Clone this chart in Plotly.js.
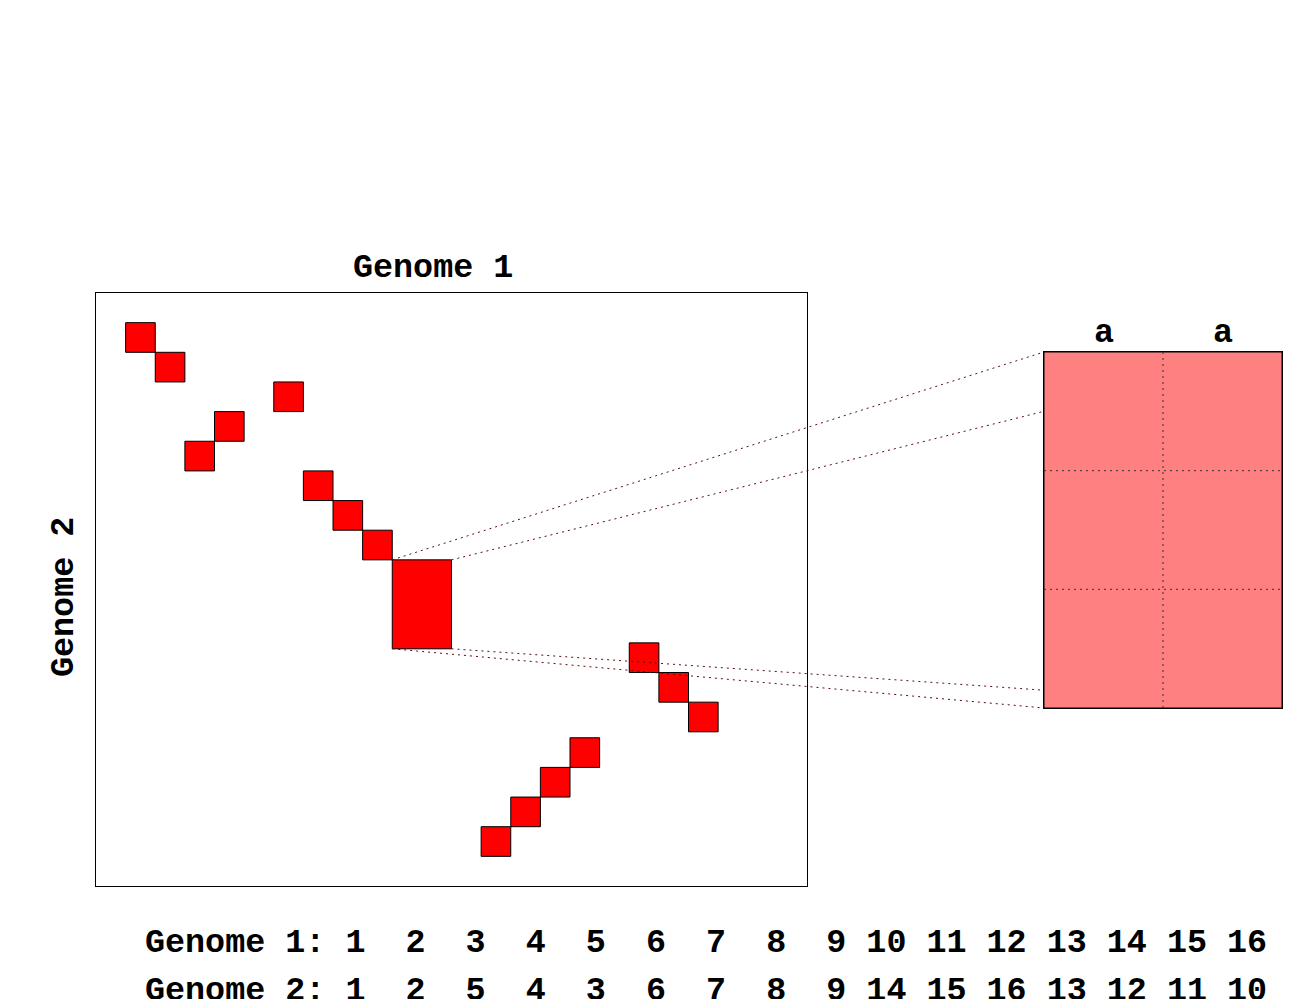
<!DOCTYPE html>
<html><head><meta charset="utf-8">
<script src="https://cdn.plot.ly/plotly-3.0.1.min.js"></script>
<style>html,body{margin:0;padding:0;background:#fff;}#chart{width:1292px;height:999px;}</style>
</head><body><div id="chart"></div>
<script>
// ---- data ----
const genome1 = [1,2,3,4,5,6,7,8,9,10,11,12,13,14,15,16];
const genome2 = [1,2,5,4,3,6,7,8,9,14,15,16,13,12,11,10];
// synteny blocks (cell units, y counted from top)
const blockX = [1,2,3,4,6,7,8,9,10,18,19,20,16,15,14,13];
const blockY = [1,2,5,4,3,6,7,8,9,11.8,12.8,13.8,15,16,17,18];
const blockW = [1,1,1,1,1,1,1,1,2,1,1,1,1,1,1,1];
const blockH = [1,1,1,1,1,1,1,1,3,1,1,1,1,1,1,1];
const zoomIndex = 8;               // block shown enlarged
const zoomColLabels = ['a','a'];
const zoomRows = 3;
// connector targets on the left edge of the zoom panel (panel row units)
const connTargetY = [0, 0.5, 2.85, 3];

// ---- layout geometry ----
const W = 1292, H = 999;
const mainXDom = [96/W, 807/W], mainYDom = [1-886/H, 1-293/H];
const zoomXDom = [1044/W, 1282/W], zoomYDom = [1-708/H, 1-352/H];
const mainXRange = [0,24], mainYRange = [20,0];
const zoomXRange = [0, zoomColLabels.length], zoomYRange = [zoomRows, 0];
const FONT = {family:'"Liberation Mono", "Courier New", monospace', size:33.4, color:'#000', weight:'bold'};

function toPaper(dom, rng, v){ return dom[0] + (v - rng[0])/(rng[1]-rng[0])*(dom[1]-dom[0]); }

// blocks trace
const bx = [], by = [];
for (let i=0;i<blockX.length;i++){
  const x0=blockX[i], x1=blockX[i]+blockW[i], y0=blockY[i], y1=blockY[i]+blockH[i];
  bx.push(x0,x1,x1,x0,x0,null); by.push(y0,y0,y1,y1,y0,null);
}
const blocks = {x:bx, y:by, mode:'lines', fill:'toself', fillcolor:'#ff0000',
  line:{color:'#000', width:1}, hoverinfo:'skip', showlegend:false, xaxis:'x', yaxis:'y'};

// zoom panel
const zc = zoomColLabels.length;
const zoomFill = {x:[0,zc,zc,0,0], y:[0,0,zoomRows,zoomRows,0], mode:'lines', fill:'toself',
  fillcolor:'#ff8080', line:{color:'#000', width:1}, hoverinfo:'skip', showlegend:false, xaxis:'x2', yaxis:'y2'};

const shapes = [];
for (let c=1;c<zc;c++) shapes.push({type:'line', xref:'x2', yref:'y2', x0:c, x1:c, y0:0, y1:zoomRows,
  line:{color:'#333', width:1, dash:'2px,4px'}});
for (let r=1;r<zoomRows;r++) shapes.push({type:'line', xref:'x2', yref:'y2', x0:0, x1:zc, y0:r, y1:r,
  line:{color:'#333', width:1, dash:'2px,4px'}});

// connectors
const zx0 = blockX[zoomIndex], zx1 = blockX[zoomIndex]+blockW[zoomIndex];
const zy0 = blockY[zoomIndex], zy1 = blockY[zoomIndex]+blockH[zoomIndex];
const corners = [[zx0,zy0],[zx1,zy0],[zx1,zy1],[zx0,zy1]];
corners.forEach((p,i)=>{
  shapes.push({type:'line', xref:'paper', yref:'paper',
    x0: toPaper(mainXDom, mainXRange, p[0]), y0: toPaper(mainYDom, mainYRange, p[1]),
    x1: toPaper(zoomXDom, zoomXRange, 0), y1: toPaper(zoomYDom, zoomYRange, connTargetY[i]),
    line:{color:'#5a1010', width:1, dash:'2px,4px'}, layer:'above'});
});

// text rows
function fmtRow(label, arr){
  return label + ' ' + arr.map((n,i)=> i===0 ? String(n) : String(n).padStart(2,' ')).join(' ');
}
const nb = s => s.replace(/ /g, '\u00A0');

const annotations = [
  {text:'Genome 1', xref:'paper', yref:'paper', x:433/W, y:1-268/H, xanchor:'center', yanchor:'middle', showarrow:false, font:FONT},
  {text:'Genome 2', xref:'paper', yref:'paper', x:64/W, y:1-597/H, xanchor:'center', yanchor:'middle', textangle:-90, showarrow:false, font:FONT},
  {text:nb(fmtRow('Genome 1:', genome1)), xref:'paper', yref:'paper', x:143/W, y:1-943/H, xanchor:'left', yanchor:'middle', showarrow:false, font:FONT},
  {text:nb(fmtRow('Genome 2:', genome2)), xref:'paper', yref:'paper', x:143/W, y:1-991/H, xanchor:'left', yanchor:'middle', showarrow:false, font:FONT}
];
zoomColLabels.forEach((t,i)=>{
  annotations.push({text:t, xref:'x2', yref:'paper', x:i+0.5, y:1-333/H, xanchor:'center', yanchor:'middle', showarrow:false, font:FONT});
});

const axBase = {showgrid:false, zeroline:false, showticklabels:false, ticks:'', showline:true, mirror:true, linecolor:'#000', linewidth:1, fixedrange:true};
const layout = {
  width:W, height:H, margin:{l:0,r:0,t:0,b:0}, paper_bgcolor:'#fff', plot_bgcolor:'rgba(0,0,0,0)',
  showlegend:false,
  xaxis: Object.assign({}, axBase, {domain:mainXDom, range:mainXRange}),
  yaxis: Object.assign({}, axBase, {domain:mainYDom, range:mainYRange}),
  xaxis2: Object.assign({}, axBase, {domain:zoomXDom, range:zoomXRange, anchor:'y2'}),
  yaxis2: Object.assign({}, axBase, {domain:zoomYDom, range:zoomYRange, anchor:'x2'}),
  shapes: shapes, annotations: annotations
};
Plotly.newPlot('chart', [blocks, zoomFill], layout, {displayModeBar:false, staticPlot:true});
</script></body></html>
